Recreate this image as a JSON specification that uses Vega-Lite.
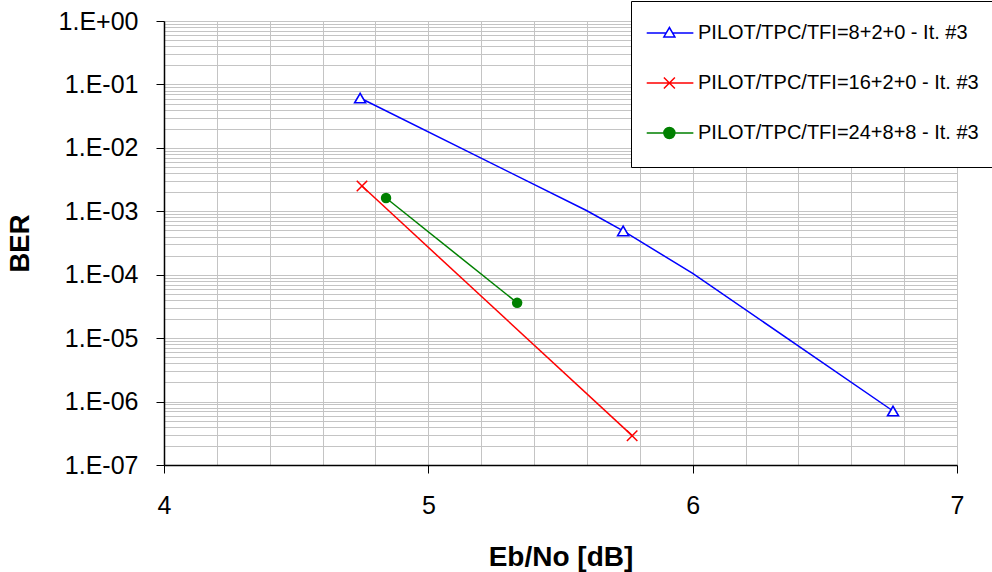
{
  "$schema": "https://vega.github.io/schema/vega-lite/v6.json",
  "autosize": {"type": "none"},
  "padding": {"left": 164, "top": 21, "right": 35, "bottom": 107},
  "width": 793,
  "height": 444,
  "background": "white",
  "config": {
    "view": {"stroke": "#808080", "strokeWidth": 1},
    "font": "Liberation Sans",
    "axis": {"labelFont": "Liberation Sans", "titleFont": "Liberation Sans", "labelColor": "black", "titleColor": "black"},
    "legend": {
      "title": null,
      "orient": "none", "legendX": 467, "legendY": -20,
      "padding": 9, "rowPadding": 0,
      "symbolSize": 1936, "symbolStrokeWidth": 1.5, "symbolOpacity": 1,
      "labelOffset": 12, "labelFontSize": 20, "labelFont": "Liberation Sans", "labelColor": "black", "labelLimit": 500,
      "strokeColor": "black", "fillColor": "white"
    }
  },
  "datasets": {
    "lines": [
      {"series": "PILOT/TPC/TFI=8+2+0 - It. #3", "ebno": 4.742, "ber": 0.061},
      {"series": "PILOT/TPC/TFI=8+2+0 - It. #3", "ebno": 5.6, "ber": 0.00102},
      {"series": "PILOT/TPC/TFI=8+2+0 - It. #3", "ebno": 5.737, "ber": 0.00049},
      {"series": "PILOT/TPC/TFI=8+2+0 - It. #3", "ebno": 6.0, "ber": 0.000105},
      {"series": "PILOT/TPC/TFI=8+2+0 - It. #3", "ebno": 6.758, "ber": 7.1e-7},
      {"series": "PILOT/TPC/TFI=16+2+0 - It. #3", "ebno": 4.749, "ber": 0.0025},
      {"series": "PILOT/TPC/TFI=16+2+0 - It. #3", "ebno": 5.771, "ber": 2.9e-7},
      {"series": "PILOT/TPC/TFI=24+8+8 - It. #3", "ebno": 4.84, "ber": 0.00162},
      {"series": "PILOT/TPC/TFI=24+8+8 - It. #3", "ebno": 5.336, "ber": 0.000036}
    ],
    "markers": [
      {"series": "PILOT/TPC/TFI=8+2+0 - It. #3", "ebno": 4.742, "ber": 0.061},
      {"series": "PILOT/TPC/TFI=8+2+0 - It. #3", "ebno": 5.737, "ber": 0.00049},
      {"series": "PILOT/TPC/TFI=8+2+0 - It. #3", "ebno": 6.758, "ber": 7.1e-7},
      {"series": "PILOT/TPC/TFI=16+2+0 - It. #3", "ebno": 4.749, "ber": 0.0025},
      {"series": "PILOT/TPC/TFI=16+2+0 - It. #3", "ebno": 5.771, "ber": 2.9e-7},
      {"series": "PILOT/TPC/TFI=24+8+8 - It. #3", "ebno": 4.84, "ber": 0.00162},
      {"series": "PILOT/TPC/TFI=24+8+8 - It. #3", "ebno": 5.336, "ber": 0.000036}
    ]
  },
  "encoding": {
    "x": {
      "field": "ebno", "type": "quantitative",
      "scale": {"domain": [4, 7], "nice": false, "zero": false},
      "axis": {
        "title": "Eb/No [dB]",
        "titleFontSize": 28, "titleFontWeight": "bold", "titlePadding": 25,
        "values": [4, 4.2, 4.4, 4.6, 4.8, 5, 5.2, 5.4, 5.6, 5.8, 6, 6.2, 6.4, 6.6, 6.8, 7],
        "labelExpr": "abs(datum.value - round(datum.value)) < 0.001 ? format(datum.value, 'd') : ''",
        "labelFontSize": 25, "labelPadding": 20, "labelOverlap": false, "labelFlush": false,
        "tickSize": 8, "tickColor": "black",
        "tickOpacity": {"condition": {"test": "abs(datum.value - round(datum.value)) < 0.001", "value": 1}, "value": 0},
        "domainColor": "black", "domainWidth": 1.5,
        "grid": true, "gridColor": "#c4c4c4", "gridWidth": 1
      }
    },
    "y": {
      "field": "ber", "type": "quantitative",
      "scale": {"type": "log", "domain": [1e-7, 1], "nice": false},
      "axis": {
        "title": "BER",
        "titleFontSize": 27.5, "titleFontWeight": "bold", "titlePadding": 24,
        "values": [1e-7, 2e-7, 3e-7, 4e-7, 5e-7, 6e-7, 7e-7, 8e-7, 9e-7,
                   1e-6, 2e-6, 3e-6, 4e-6, 5e-6, 6e-6, 7e-6, 8e-6, 9e-6,
                   1e-5, 2e-5, 3e-5, 4e-5, 5e-5, 6e-5, 7e-5, 8e-5, 9e-5,
                   1e-4, 2e-4, 3e-4, 4e-4, 5e-4, 6e-4, 7e-4, 8e-4, 9e-4,
                   1e-3, 2e-3, 3e-3, 4e-3, 5e-3, 6e-3, 7e-3, 8e-3, 9e-3,
                   1e-2, 2e-2, 3e-2, 4e-2, 5e-2, 6e-2, 7e-2, 8e-2, 9e-2,
                   1e-1, 2e-1, 3e-1, 4e-1, 5e-1, 6e-1, 7e-1, 8e-1, 9e-1, 1],
        "labelExpr": "abs(log(datum.value)/LN10 - round(log(datum.value)/LN10)) < 0.001 ? '1.E' + (round(log(datum.value)/LN10) < 0 ? '-' : '+') + (abs(round(log(datum.value)/LN10)) < 10 ? '0' : '') + abs(round(log(datum.value)/LN10)) : ''",
        "labelFontSize": 25, "labelPadding": 18, "labelOverlap": false, "labelFlush": false,
        "tickSize": 8, "tickColor": "black",
        "tickOpacity": {"condition": {"test": "abs(log(datum.value)/LN10 - round(log(datum.value)/LN10)) < 0.001", "value": 1}, "value": 0},
        "domainColor": "black", "domainWidth": 1.5,
        "grid": true, "gridColor": "#c4c4c4", "gridWidth": 1
      }
    }
  },
  "layer": [
    {
      "data": {"name": "lines"},
      "mark": {"type": "line", "strokeWidth": 1.5},
      "encoding": {
        "color": {
          "field": "series", "type": "nominal",
          "scale": {
            "domain": ["PILOT/TPC/TFI=8+2+0 - It. #3", "PILOT/TPC/TFI=16+2+0 - It. #3", "PILOT/TPC/TFI=24+8+8 - It. #3"],
            "range": ["#0000ff", "#ff0000", "#008000"]
          }
        }
      }
    },
    {
      "data": {"name": "markers"},
      "transform": [{"filter": {"field": "series", "equal": "PILOT/TPC/TFI=8+2+0 - It. #3"}}],
      "mark": {"type": "point", "shape": "triangle-up", "size": 121, "fill": "white", "fillOpacity": 1, "stroke": "#0000ff", "strokeWidth": 1.6, "opacity": 1}
    },
    {
      "data": {"name": "markers"},
      "transform": [{"filter": {"field": "series", "equal": "PILOT/TPC/TFI=16+2+0 - It. #3"}}],
      "mark": {"type": "point", "shape": "M-1,-1L1,1M-1,1L1,-1", "size": 110, "stroke": "#ff0000", "strokeWidth": 1.5, "opacity": 1}
    },
    {
      "data": {"name": "markers"},
      "transform": [{"filter": {"field": "series", "equal": "PILOT/TPC/TFI=24+8+8 - It. #3"}}],
      "mark": {"type": "point", "shape": "circle", "size": 110, "filled": true, "color": "#008000", "opacity": 1}
    },
    {
      "data": {"name": "markers"},
      "transform": [{"filter": "datum.ebno > 100"}],
      "mark": {"type": "point", "strokeWidth": 1.5},
      "encoding": {
        "shape": {
          "field": "series", "type": "nominal",
          "scale": {
            "domain": ["PILOT/TPC/TFI=8+2+0 - It. #3", "PILOT/TPC/TFI=16+2+0 - It. #3", "PILOT/TPC/TFI=24+8+8 - It. #3"],
            "range": [
              "M0.29,-1M0.29,1M15,0M-0.74,0L0.145,0M0.435,0L1.38,0M0.29,-0.25L0.54,0.18L0.04,0.18Z",
              "M0.29,-1M0.29,1M15,0M-0.74,0L1.38,0M0.04,-0.25L0.54,0.25M0.04,0.25L0.54,-0.25",
              "M0.29,-1M0.29,1M15,0M-0.74,0L1.38,0M0.54,0C0.54,0.138 0.428,0.25 0.29,0.25C0.152,0.25 0.04,0.138 0.04,0C0.04,-0.138 0.152,-0.25 0.29,-0.25C0.428,-0.25 0.54,-0.138 0.54,0Z"
            ]
          }
        },
        "fill": {
          "field": "series", "type": "nominal",
          "scale": {
            "domain": ["PILOT/TPC/TFI=8+2+0 - It. #3", "PILOT/TPC/TFI=16+2+0 - It. #3", "PILOT/TPC/TFI=24+8+8 - It. #3"],
            "range": ["white", "white", "#008000"]
          }
        }
      }
    }
  ]
}
